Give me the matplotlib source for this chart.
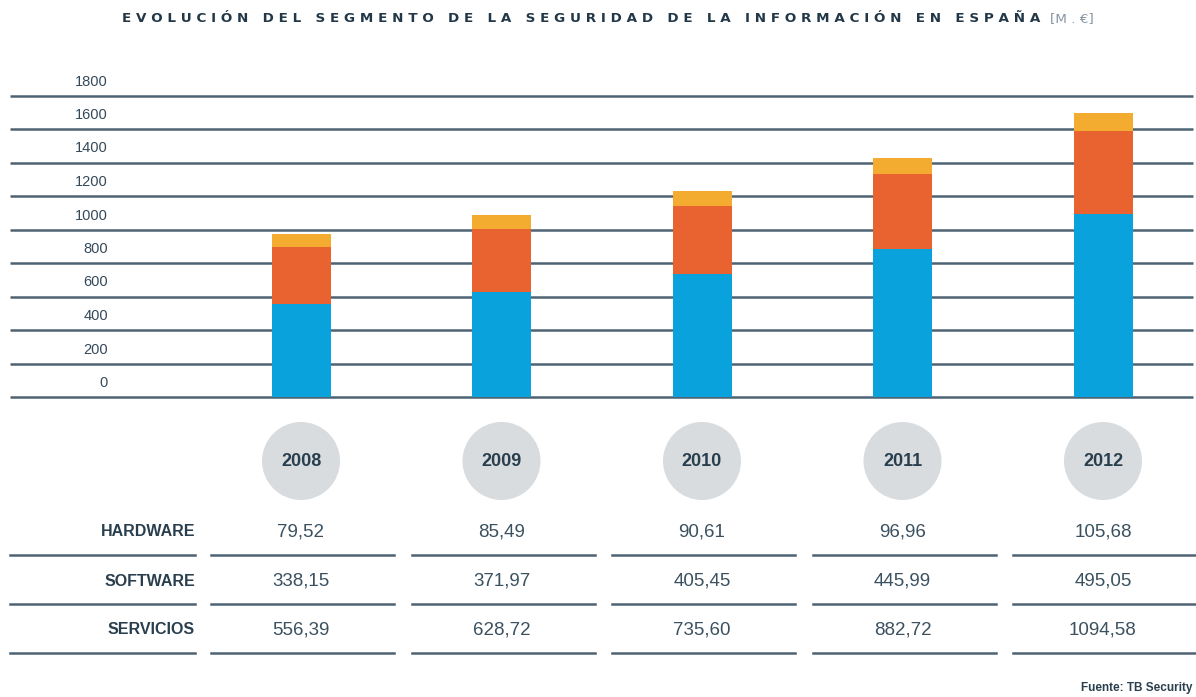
import matplotlib
matplotlib.use('Agg')
import matplotlib.pyplot as plt
import matplotlib.patches as patches
from matplotlib import font_manager
from matplotlib.transforms import offset_copy

years = ['2008', '2009', '2010', '2011', '2012']
hardware = [79.52, 85.49, 90.61, 96.96, 105.68]
software = [338.15, 371.97, 405.45, 445.99, 495.05]
servicios = [556.39, 628.72, 735.60, 882.72, 1094.58]
row_names = ['HARDWARE', 'SOFTWARE', 'SERVICIOS']
yticks = [0, 200, 400, 600, 800, 1000, 1200, 1400, 1600, 1800]

names = set(f.name for f in font_manager.fontManager.ttflist)
narrow = 'Liberation Sans Narrow' if 'Liberation Sans Narrow' in names else 'Liberation Sans'

W, H = 1196, 697
c_blue = '#0aa2dc'
c_orange = '#e8632f'
c_yellow = '#f3ab30'
c_line = '#4d6373'
c_text = '#2a3f4e'

fig = plt.figure(figsize=(W / 100, H / 100), dpi=100)
fig.patch.set_facecolor('white')

# bar chart area: value 0 at px y=397, 200 units every 33.5 px
y0px, ytop_px = 397, 70
per_px = 200 / 33.5
ax = fig.add_axes([0, 1 - y0px / H, 1, (y0px - ytop_px) / H])
cx0, step = 301, 200.5
ax.set_xlim(-cx0 / step, (W - cx0) / step)
ax.set_ylim(0, (y0px - ytop_px) * per_px)
ax.axis('off')

def xdata(px):
    return (px - cx0) / step

ax.hlines(yticks, xdata(10), xdata(1193), color=c_line, lw=1.8, zorder=1, clip_on=False)
lab_tr = offset_copy(ax.transData, fig=fig, x=0, y=14, units='dots')
for v in yticks:
    ax.text(xdata(108), v, str(v), transform=lab_tr, ha='right', va='center',
            fontsize=10.5, family=narrow, color='#34495a')

pos = list(range(len(years)))
bw = 59 / step
ax.bar(pos, servicios, bw, color=c_blue, zorder=3)
ax.bar(pos, software, bw, bottom=servicios, color=c_orange, zorder=3)
tops = [s + w for s, w in zip(servicios, software)]
ax.bar(pos, hardware, bw, bottom=tops, color=c_yellow, zorder=3)

# table area in pixel coordinates
tb = fig.add_axes([0, 0, 1, 1])
tb.set_xlim(0, W)
tb.set_ylim(H, 0)
tb.axis('off')
tb.patch.set_alpha(0)

def fmt(v):
    return ('%.2f' % v).replace('.', ',')

row_y = [532, 581, 630]
line_y = [555, 604, 653]
for i, yr in enumerate(years):
    cx = cx0 + step * i
    tb.add_patch(patches.Circle((cx, 461), 39, color='#d9dcdf', lw=0))
    tb.text(cx, 462, yr, ha='center', va='center', fontsize=13, family=narrow,
            fontweight='bold', color=c_text)
    for j, vals in enumerate([hardware, software, servicios]):
        tb.text(cx, row_y[j], fmt(vals[i]), ha='center', va='center', fontsize=13.5,
                family=narrow, color='#3b5160')
    for ly in line_y:
        tb.plot([cx - 90, cx + 93], [ly, ly], color=c_line, lw=1.8)

for j, name in enumerate(row_names):
    tb.text(195, row_y[j], name, ha='right', va='center', fontsize=11.5, family=narrow,
            fontweight='bold', color=c_text)
    tb.plot([10, 195], [line_y[j], line_y[j]], color=c_line, lw=1.8)

title = '   '.join(' '.join(w) for w in 'EVOLUCIÓN DEL SEGMENTO DE LA SEGURIDAD DE LA INFORMACIÓN EN ESPAÑA'.split())
t = tb.text(122, 19, title, ha='left', va='center', fontsize=9.7, fontweight='bold',
            family='DejaVu Sans', color='#223848')
fig.canvas.draw()
bb = t.get_window_extent()
tb.text(bb.x1 + 10, 19, '[M . €]', ha='left', va='center', fontsize=9.7,
        family='DejaVu Sans', color='#8696a3')

tb.text(1192, 688, 'Fuente: TB Security', ha='right', va='center', fontsize=8.5,
        family=narrow, fontweight='bold', color=c_text)

fig.savefig('out.png', dpi=100)
